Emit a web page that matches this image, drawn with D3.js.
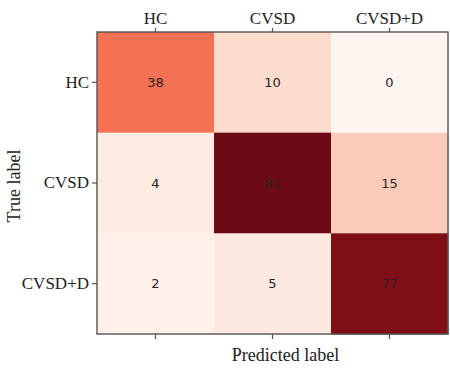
<!DOCTYPE html>
<html>
<head>
<meta charset="utf-8">
<script src="https://cdn.jsdelivr.net/npm/d3@7"></script>
<style>
  html, body { margin: 0; padding: 0; background: #fff; }
  svg { display: block; }
</style>
</head>
<body>
<svg id="chart" width="450" height="372"></svg>
<script>
// Confusion matrix: rows = true label, columns = predicted label
const classes = ["HC", "CVSD", "CVSD+D"];
const rowHC = [38, 10, 0];
const rowCVSD = [4, 81, 15];
const rowCVSDD = [2, 5, 77];
const matrix = [rowHC, rowCVSD, rowCVSDD];

const svg = d3.select("#chart");
const margin = { left: 97, top: 32, right: 2, bottom: 38 };
const W = 450, H = 372;
const plotW = W - margin.left - margin.right;
const plotH = H - margin.top - margin.bottom;

const x = d3.scaleBand().domain(classes).range([0, plotW]);
const y = d3.scaleBand().domain(classes).range([0, plotH]);
const vmax = d3.max(matrix.flat());
const reds = d3.scaleSequential(d3.interpolateReds).domain([0, vmax]);
// Reds map, muted a little more towards the dark end
const color = v => d3.interpolateRgb(reds(v), "#8a4a4a")(0.12 * v / vmax);

const g = svg.append("g").attr("transform", `translate(${margin.left},${margin.top})`);

const cells = [];
matrix.forEach((row, i) => row.forEach((v, j) => cells.push({ r: classes[i], c: classes[j], v })));

g.selectAll("rect.cell").data(cells).join("rect")
  .attr("class", "cell")
  .attr("x", d => x(d.c))
  .attr("y", d => y(d.r))
  .attr("width", x.bandwidth() + 0.5)
  .attr("height", y.bandwidth() + 0.5)
  .attr("fill", d => color(d.v));

g.selectAll("text.val").data(cells).join("text")
  .attr("class", "val")
  .attr("x", d => x(d.c) + x.bandwidth() / 2)
  .attr("y", d => y(d.r) + y.bandwidth() / 2)
  .attr("text-anchor", "middle")
  .attr("dominant-baseline", "central")
  .attr("font-family", "DejaVu Sans, sans-serif")
  .attr("font-size", 13)
  .attr("fill", "#2a2222")
  .text(d => d.v);

// Frame
g.append("rect")
  .attr("x", 0).attr("y", 0).attr("width", plotW).attr("height", plotH)
  .attr("fill", "none").attr("stroke", "#555").attr("stroke-width", 1.4);

const serif = "Liberation Serif, Times New Roman, serif";

function styleAxis(sel, showLabels) {
  sel.select(".domain").remove();
  sel.selectAll(".tick line").attr("stroke", "#555").attr("stroke-width", 1.2);
  sel.selectAll(".tick text")
    .attr("font-family", serif)
    .attr("font-size", 17)
    .attr("fill", "#222");
  if (!showLabels) sel.selectAll(".tick text").remove();
}

g.append("g").call(d3.axisTop(x).tickSize(4).tickPadding(4)).call(s => styleAxis(s, true));
g.append("g").call(d3.axisLeft(y).tickSize(5).tickPadding(3)).call(s => styleAxis(s, true));
g.append("g").attr("transform", `translate(0,${plotH})`)
  .call(d3.axisBottom(x).tickSize(5)).call(s => styleAxis(s, false));

// Axis titles
svg.append("text")
  .attr("x", margin.left + x("CVSD") + x.bandwidth() / 2 + 13)
  .attr("y", 361)
  .attr("text-anchor", "middle")
  .attr("font-family", serif)
  .attr("font-size", 18)
  .attr("fill", "#222")
  .text("Predicted label");

svg.append("text")
  .attr("transform", `translate(20,${margin.top + plotH / 2 + 3}) rotate(-90)`)
  .attr("text-anchor", "middle")
  .attr("font-family", serif)
  .attr("font-size", 18)
  .attr("fill", "#222")
  .text("True label");
</script>
</body>
</html>
